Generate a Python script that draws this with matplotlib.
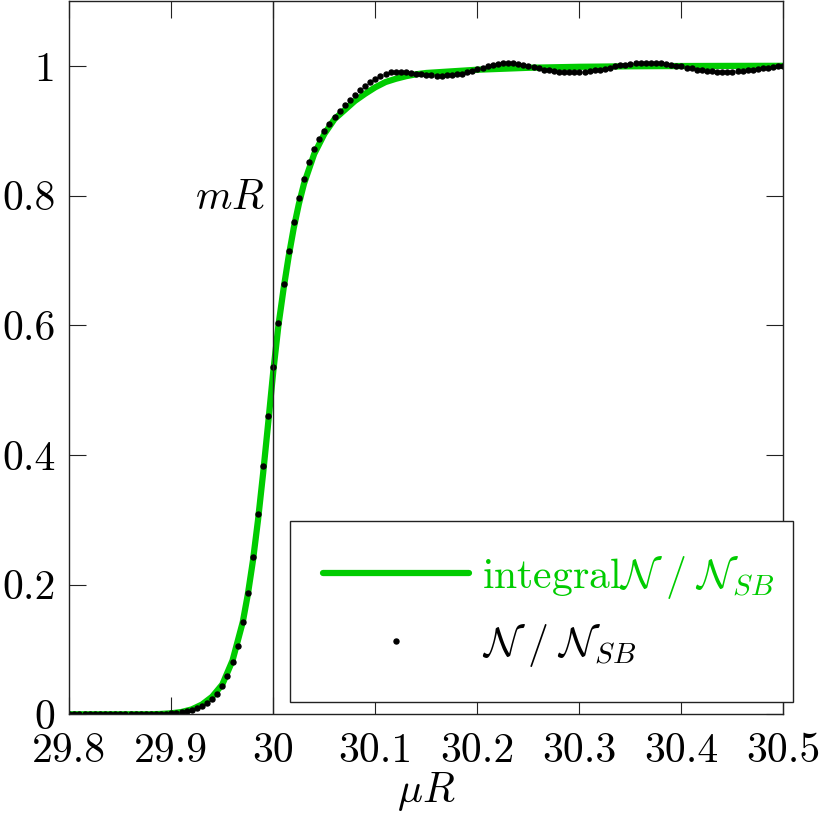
import matplotlib
matplotlib.use('Agg')
import matplotlib.pyplot as plt

# Dots: N / N_SB, sampled every 0.005 in muR
dot_x = [
    29.800, 29.805, 29.810, 29.815, 29.820, 29.825, 29.830, 29.835, 29.840, 29.845,
    29.850, 29.855, 29.860, 29.865, 29.870, 29.875, 29.880, 29.885, 29.890, 29.895,
    29.900, 29.905, 29.910, 29.915, 29.920, 29.925, 29.930, 29.935, 29.940, 29.945,
    29.950, 29.955, 29.960, 29.965, 29.970, 29.975, 29.980, 29.985, 29.990, 29.995,
    30.000, 30.005, 30.010, 30.015, 30.020, 30.025, 30.030, 30.035, 30.040, 30.045,
    30.050, 30.055, 30.060, 30.065, 30.070, 30.075, 30.080, 30.085, 30.090, 30.095,
    30.100, 30.105, 30.110, 30.115, 30.120, 30.125, 30.130, 30.135, 30.140, 30.145,
    30.150, 30.155, 30.160, 30.165, 30.170, 30.175, 30.180, 30.185, 30.190, 30.195,
    30.200, 30.205, 30.210, 30.215, 30.220, 30.225, 30.230, 30.235, 30.240, 30.245,
    30.250, 30.255, 30.260, 30.265, 30.270, 30.275, 30.280, 30.285, 30.290, 30.295,
    30.300, 30.305, 30.310, 30.315, 30.320, 30.325, 30.330, 30.335, 30.340, 30.345,
    30.350, 30.355, 30.360, 30.365, 30.370, 30.375, 30.380, 30.385, 30.390, 30.395,
    30.400, 30.405, 30.410, 30.415, 30.420, 30.425, 30.430, 30.435, 30.440, 30.445,
    30.450, 30.455, 30.460, 30.465, 30.470, 30.475, 30.480, 30.485, 30.490, 30.495,
    30.500,
]
dot_y = [
    0.0, 0.0, 0.0, 0.0, 0.0, 0.0, 0.0, 0.0, 0.0, 0.0,
    0.0, 0.0, 0.0, 0.0, 0.0, 0.0, 0.0, 0.0, 0.0004, 0.0007,
    0.0012, 0.002, 0.003, 0.0045, 0.0065, 0.009, 0.0135, 0.018, 0.024, 0.032,
    0.043, 0.059, 0.080, 0.106, 0.142, 0.187, 0.243, 0.309, 0.383, 0.460,
    0.535, 0.603, 0.663, 0.715, 0.759, 0.796, 0.826, 0.851, 0.871, 0.887,
    0.900, 0.911, 0.921, 0.931, 0.939, 0.947, 0.955, 0.962, 0.969, 0.975,
    0.980, 0.984, 0.988, 0.990, 0.991, 0.991, 0.990, 0.989, 0.988, 0.987,
    0.986, 0.9855, 0.985, 0.985, 0.9855, 0.986, 0.987, 0.988, 0.990, 0.992,
    0.9945, 0.997, 0.999, 1.001, 1.003, 1.004, 1.004, 1.004, 1.003, 1.002,
    1.000, 0.998, 0.996, 0.994, 0.993, 0.992, 0.991, 0.9905, 0.990, 0.990,
    0.9905, 0.991, 0.992, 0.993, 0.994, 0.995, 0.997, 0.999, 1.001, 1.002,
    1.003, 1.004, 1.005, 1.005, 1.005, 1.0045, 1.004, 1.003, 1.002, 1.000,
    0.999, 0.997, 0.996, 0.994, 0.993, 0.992, 0.9915, 0.991, 0.991, 0.991,
    0.991, 0.9915, 0.992, 0.993, 0.994, 0.995, 0.996, 0.997, 0.998, 0.999,
    1.000,
]

# Green curve: integral N / N_SB
int_x = [29.80, 29.82, 29.84, 29.86, 29.88, 29.89, 29.90, 29.91, 29.92, 29.93,
         29.94, 29.95, 29.96, 29.97, 29.975, 29.98, 29.985, 29.99, 29.995, 30.00,
         30.005, 30.01, 30.015, 30.02, 30.025, 30.03, 30.04, 30.05, 30.06, 30.07,
         30.08, 30.09, 30.10, 30.11, 30.12, 30.13, 30.14, 30.15, 30.17, 30.20,
         30.25, 30.30, 30.35, 30.40, 30.45, 30.50]
int_y = [0.0, 0.0, 0.0, 0.0, 0.0, 0.0005, 0.0015, 0.0035, 0.0075, 0.015,
         0.027, 0.046, 0.083, 0.142, 0.185, 0.237, 0.300, 0.372, 0.450, 0.530,
         0.600, 0.656, 0.706, 0.750, 0.787, 0.818, 0.864, 0.895, 0.918, 0.932,
         0.946, 0.957, 0.967, 0.975, 0.980, 0.984, 0.987, 0.989, 0.991, 0.994,
         0.997, 0.9985, 0.9993, 0.9997, 0.9999, 1.0]

x_ticks = [29.8, 29.9, 30.0, 30.1, 30.2, 30.3, 30.4, 30.5]
x_tick_labels = ['29.8', '29.9', '30', '30.1', '30.2', '30.3', '30.4', '30.5']
y_ticks = [0, 0.2, 0.4, 0.6, 0.8, 1.0]
y_tick_labels = ['0', '0.2', '0.4', '0.6', '0.8', '1']
mR = 30.0

plt.rcParams['font.family'] = 'serif'
plt.rcParams['font.serif'] = ['cmr10']
plt.rcParams['mathtext.fontset'] = 'cm'
plt.rcParams['axes.formatter.use_mathtext'] = True

green = '#00cc00'

fig = plt.figure(figsize=(8.23, 8.18), dpi=100)
ax = fig.add_axes([0.0842, 0.1268, 0.8678, 0.8720])

ax.plot(int_x, int_y, color=green, linewidth=4.5, solid_capstyle='round',
        label=r'integral$\mathcal{N}\;/\;\mathcal{N}_{SB}$')
ax.plot(dot_x, dot_y, 'o', color='black', markersize=3.6, linestyle='none',
        label=r'$\mathcal{N}\;/\;\mathcal{N}_{SB}$')

# vertical line at mR
ax.axvline(mR, color='#222222', linewidth=1.0)
ax.text(29.9915, 0.795, r'$mR$', fontsize=30, ha='right', va='center')

ax.set_xlim(29.8, 30.5)
ax.set_ylim(0, 1.1)
ax.set_xticks(x_ticks)
ax.set_xticklabels(x_tick_labels)
ax.set_yticks(y_ticks)
ax.set_yticklabels(y_tick_labels)
ax.tick_params(direction='in', length=12, width=0.8, top=True, right=True,
               labelsize=30, color='#222222')
ax.tick_params(axis='x', pad=13)
ax.tick_params(axis='y', pad=10)
for s in ax.spines.values():
    s.set_linewidth(1.0)
    s.set_color('#222222')

ax.set_xlabel(r'$\mu R$', fontsize=30, labelpad=0)

leg = ax.legend(loc='lower left', bbox_to_anchor=(0.309, 0.017, 0.704, 0.25),
                mode='expand', borderaxespad=0, fontsize=30,
                handlelength=3.5, handletextpad=0.3,
                numpoints=1, borderpad=0.8, labelspacing=0.5,
                fancybox=False, framealpha=1, edgecolor='#222222')
leg.get_frame().set_linewidth(1.0)
for t, c in zip(leg.get_texts(), [green, 'black']):
    t.set_color(c)

fig.savefig('out.png', dpi=100)
